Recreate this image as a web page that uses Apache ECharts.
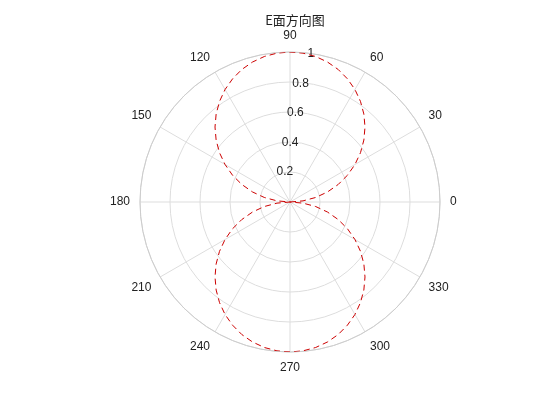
<!DOCTYPE html>
<html>
<head>
<meta charset="utf-8">
<script src="https://cdn.jsdelivr.net/npm/echarts@6/dist/echarts.min.js"></script>
<style>html,body{margin:0;background:#fff}#c{width:560px;height:420px}</style>
</head>
<body>
<div id="c"></div>
<script>
// angle in degrees
var angles = [0,5,10,15,20,25,30,35,40,45,50,55,60,65,70,75,80,85,90,
  95,100,105,110,115,120,125,130,135,140,145,150,155,160,165,170,175,180,
  185,190,195,200,205,210,215,220,225,230,235,240,245,250,255,260,265,270,
  275,280,285,290,295,300,305,310,315,320,325,330,335,340,345,350,355,360];
var radius = [0,.087,.174,.259,.342,.423,.5,.574,.643,.707,.766,.819,.866,.906,.940,.966,.985,.996,1,
  .996,.985,.966,.940,.906,.866,.819,.766,.707,.643,.574,.5,.423,.342,.259,.174,.087,0,
  .087,.174,.259,.342,.423,.5,.574,.643,.707,.766,.819,.866,.906,.940,.966,.985,.996,1,
  .996,.985,.966,.940,.906,.866,.819,.766,.707,.643,.574,.5,.423,.342,.259,.174,.087,0];
var rTicks = ['0.2','0.4','0.6','0.8','1'];

var chart = echarts.init(document.getElementById('c'));
var font = {fontFamily: 'Liberation Sans', fontSize: 12, color: '#222'};
chart.setOption({
  animation: false,
  title: {text: 'E面方向图', left: 290, top: 9, textAlign: 'center',
    textStyle: {fontFamily: 'Noto Sans CJK SC', fontSize: 13, fontWeight: 'normal', color: '#222'}},
  polar: [
    {center: [290, 202], radius: 150},
    {center: [290, 202], radius: 150}
  ],
  angleAxis: [
    {polarIndex: 0, type: 'value', min: 0, max: 360, interval: 30, startAngle: 0, clockwise: false,
      axisLine: {lineStyle: {color: '#ccc'}}, axisTick: {show: false},
      axisLabel: Object.assign({margin: 10, formatter: function (v) { return v === 360 ? '' : v; }}, font),
      splitLine: {lineStyle: {color: '#ddd'}}},
    {polarIndex: 1, type: 'value', min: 0, max: 360, startAngle: 80, clockwise: false,
      axisLine: {show: false}, axisTick: {show: false}, axisLabel: {show: false}, splitLine: {show: false}}
  ],
  radiusAxis: [
    {polarIndex: 0, min: 0, max: 1, interval: 0.2, axisLine: {show: false}, axisTick: {show: false},
      axisLabel: {show: false}, splitLine: {lineStyle: {color: '#ddd'}}},
    {polarIndex: 1, min: 0, max: 1, interval: 0.2, axisLine: {show: false}, axisTick: {show: false},
      splitLine: {show: false},
      axisLabel: Object.assign({margin: 2, padding: [0, 0, 10, 36], formatter: function (v) {
        var i = Math.round(v / 0.2) - 1; return i >= 0 ? rTicks[i] : ''; }}, font)}
  ],
  series: [{
    type: 'line', coordinateSystem: 'polar', polarIndex: 0, showSymbol: false,
    data: angles.map(function (a, i) { return [radius[i], a]; }),
    lineStyle: {color: '#cc0000', width: 1, type: [6, 4]}
  }]
});
</script>
</body>
</html>
